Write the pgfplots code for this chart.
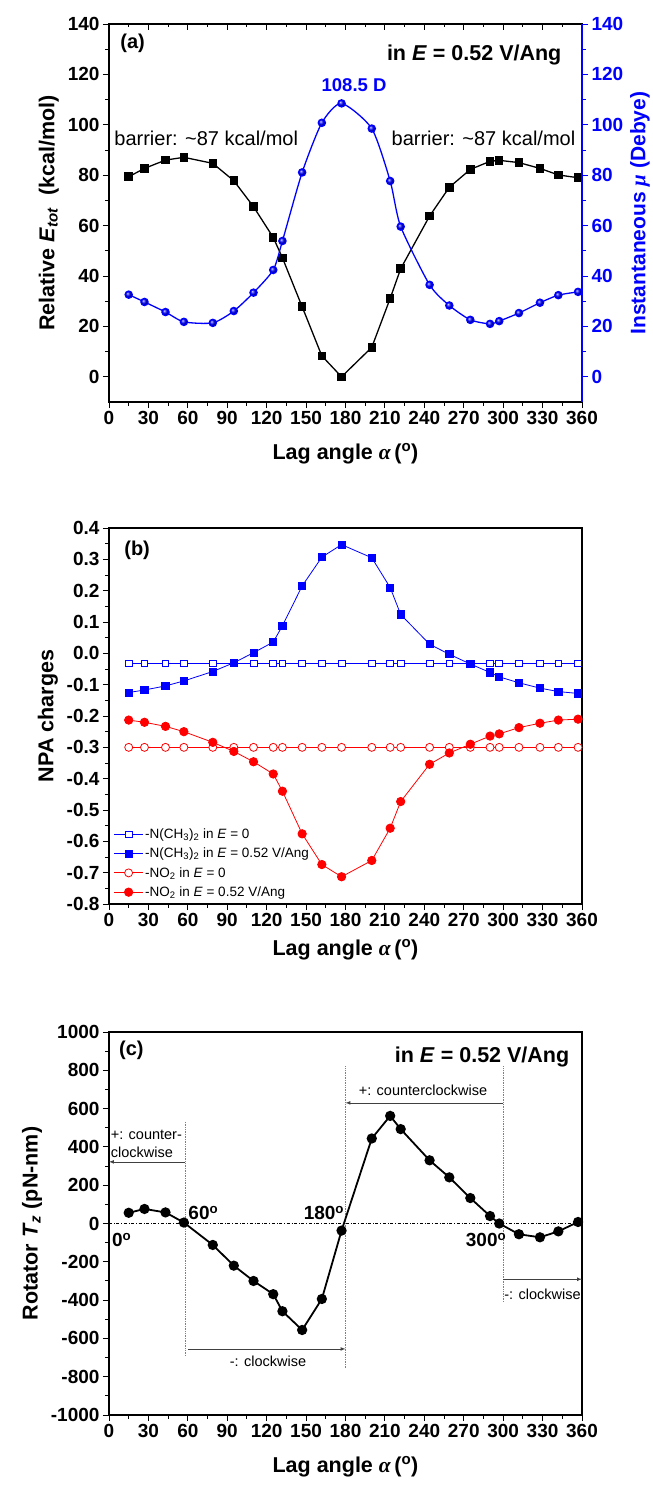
\documentclass[border=0pt]{standalone}
\usepackage{fontspec}
\setmainfont{Liberation Sans}
\newfontfamily\grk{Liberation Serif}
\usepackage{pgfplots}
\pgfplotsset{compat=1.18}
\usepackage{pgfplotstable}

\pgfplotstableread{
ang E mu Nf N0 Of O0 T
15 79.4 32.6 -0.125 -0.032 -0.213 -0.30 56
27 82.7 29.7 -0.117 -0.032 -0.220 -0.30 76
43 86.0 25.7 -0.104 -0.032 -0.233 -0.30 58
57 87.1 21.8 -0.088 -0.032 -0.250 -0.30 5
79 84.7 21.4 -0.058 -0.032 -0.284 -0.30 -112
95 77.8 26.1 -0.030 -0.032 -0.313 -0.30 -220
110 67.5 33.4 0.002 -0.032 -0.346 -0.30 -300
125 55.3 42.4 0.036 -0.032 -0.385 -0.30 -369
132 47.2 53.9 0.088 -0.032 -0.440 -0.30 -458
147 27.8 81.1 0.215 -0.032 -0.576 -0.30 -556
162 8.3 100.8 0.307 -0.032 -0.674 -0.30 -394
177 0.0 108.5 0.347 -0.032 -0.713 -0.30 -37
200 11.7 98.5 0.305 -0.032 -0.661 -0.30 444
214 31.1 77.7 0.210 -0.032 -0.558 -0.30 562
222 42.9 59.6 0.124 -0.032 -0.473 -0.30 493
244 63.8 36.5 0.029 -0.032 -0.354 -0.30 330
259 75.2 28.3 -0.003 -0.032 -0.318 -0.30 241
275 82.3 22.6 -0.034 -0.032 -0.290 -0.30 133
290 85.5 21.0 -0.061 -0.032 -0.264 -0.30 39
297 85.9 22.1 -0.075 -0.032 -0.257 -0.30 0
312 85.0 25.3 -0.094 -0.032 -0.237 -0.30 -56
328 82.7 29.4 -0.111 -0.032 -0.223 -0.30 -72
342 80.1 32.4 -0.122 -0.032 -0.213 -0.30 -41
357 79.0 33.7 -0.128 -0.032 -0.210 -0.30 8
}\data

\pgfplotsset{
  panel/.style={
    scale only axis, width=473pt, clip=false,
    xmin=0, xmax=360, xtick={0,30,...,360}, minor x tick num=1,
    tick align=outside, xtick pos=bottom, ytick pos=left,
    minor y tick num=1,
    tick style={black, line width=1pt},
    major tick length=6pt, minor tick length=3.5pt,
    axis line style={line width=1.3pt},
    ticklabel style={font=\fontsize{19}{19}\selectfont\bfseries},
    /pgf/number format/assume math mode=true,
    /pgf/number format/1000 sep={},
    label style={font=\fontsize{21.5}{23}\selectfont\bfseries},
    xlabel={Lag angle {\grk\bfseries\itshape α}\,(\textsuperscript{o})},
    xlabel shift=12pt, ylabel shift=2pt,
  },
  every axis/.append style={
    legend image code/.code={\draw[mark repeat=2,mark phase=2] plot coordinates {(0cm,0cm) (0.5cm,0cm) (1cm,0cm)};}
  }
}

\begin{document}
\begin{tikzpicture}
\path[use as bounding box] (0,0) rectangle (653pt,-1486pt);

% ---------------- (a)
\begin{axis}[panel, at={(109pt,-24pt)}, anchor=north west, height=378pt,
  ymin=-10, ymax=140, ytick={0,20,...,140},
  ylabel={Relative \textit{E}\textsubscript{\textit{tot}}\ \ (kcal/mol)}]
\addplot[black, line width=1.3pt, mark=square*, mark size=3.6pt] table[x=ang,y=E]{\data};
\node[anchor=west, font=\fontsize{20}{20}\selectfont\bfseries] at (axis cs:6,132.5) {(a)};
\node[anchor=east, font=\fontsize{21.5}{21.5}\selectfont\bfseries] at (axis cs:347,127.7) {in \textit{E} = 0.52 V/Ang};
\node[font=\fontsize{18.5}{18.5}\selectfont\bfseries, text=blue] at (axis cs:186.5,115.8) {108.5 D};
\node[font=\fontsize{20}{20}\selectfont] at (axis cs:74,94.6) {barrier: \char`\~87 kcal/mol};
\node[font=\fontsize{20}{20}\selectfont] at (axis cs:285,94.6) {barrier: \char`\~87 kcal/mol};
\end{axis}
\begin{axis}[at={(109pt,-24pt)}, anchor=north west, scale only axis, width=473pt, height=378pt,
  xmin=0, xmax=360, ymin=-10, ymax=140, axis x line*=top, axis y line=none,
  xtick={0,30,...,360}, minor x tick num=1, xticklabels={}, tick align=inside,
  tick style={black, line width=1pt}, major tick length=6pt, minor tick length=3.5pt,
  axis line style={line width=1.3pt}]
\end{axis}
\begin{axis}[at={(109pt,-24pt)}, anchor=north west, scale only axis, width=473pt, height=378pt,
  xmin=0, xmax=360, ymin=-10, ymax=140, axis x line=none, axis y line*=right,
  ytick={0,20,...,140}, minor y tick num=1, tick align=outside,
  y axis line style={blue, line width=1.3pt}, ytick style={blue, line width=1pt},
  major tick length=6pt, minor tick length=3.5pt,
  yticklabel style={blue, font=\fontsize{19}{19}\selectfont\bfseries},
  /pgf/number format/assume math mode=true,
  ylabel={Instantaneous {\grk\bfseries\itshape μ} (Debye)},
  ylabel style={blue, font=\fontsize{21}{23}\selectfont\bfseries}]
\addplot[blue, line width=1.3pt, smooth, tension=0.4, mark=ball, mark size=3.6pt, mark options={ball color=blue}] table[x=ang,y=mu]{\data};
\end{axis}

% ---------------- (b)
\begin{axis}[panel, at={(109pt,-528pt)}, anchor=north west, height=376pt,
  ymin=-0.8, ymax=0.4,
  ytick={-0.8,-0.7,-0.6,-0.5,-0.4,-0.3,-0.2,-0.1,0,0.1,0.2,0.3,0.4},
  yticklabel style={/pgf/number format/.cd, fixed, fixed zerofill, precision=1},
  ylabel={NPA charges}, xlabel shift=6pt,
  legend style={at={(0.008,0.008)}, anchor=south west, draw=none, fill=none,
    font=\fontsize{13.5}{14}\selectfont, row sep=4pt, inner sep=1pt},
  legend cell align=left]
\addplot[blue, line width=0.8pt, mark=square*, mark size=3.4pt, mark options={fill=white, line width=0.8pt}] table[x=ang,y=N0]{\data};
\addlegendentry{-N(CH\textsubscript{3})\textsubscript{2} in \textit{E} = 0}
\addplot[blue, line width=0.8pt, mark=square*, mark size=3.6pt] table[x=ang,y=Nf]{\data};
\addlegendentry{-N(CH\textsubscript{3})\textsubscript{2} in \textit{E} = 0.52 V/Ang}
\addplot[red, line width=0.8pt, mark=*, mark size=4pt, mark options={fill=white, line width=0.8pt}] table[x=ang,y=O0]{\data};
\addlegendentry{-NO\textsubscript{2} in \textit{E} = 0}
\addplot[red, line width=0.8pt, mark=*, mark size=4.2pt] table[x=ang,y=Of]{\data};
\addlegendentry{-NO\textsubscript{2} in \textit{E} = 0.52 V/Ang}
\node[anchor=west, font=\fontsize{20}{20}\selectfont\bfseries] at (axis cs:9,0.328) {(b)};
\end{axis}

% ---------------- (c)
\begin{axis}[panel, at={(109pt,-1032pt)}, anchor=north west, height=383pt,
  ymin=-1000, ymax=1000, ytick={-1000,-800,...,1000},
  ylabel={Rotator \textit{T}\textsubscript{\textit{z}} (pN-nm)}]
\draw[dash dot, line width=0.6pt] (axis cs:0,0) -- (axis cs:360,0);
\draw[densely dotted, gray, line width=0.7pt] (axis cs:58,530) -- (axis cs:58,-690);
\draw[densely dotted, gray, line width=0.7pt] (axis cs:180,820) -- (axis cs:180,-760);
\draw[densely dotted, gray, line width=0.7pt] (axis cs:300,820) -- (axis cs:300,-410);
\draw[-latex, black!75, line width=0.7pt] (axis cs:58,322) -- (axis cs:0,322);
\draw[-latex, black!75, line width=0.7pt] (axis cs:300,630) -- (axis cs:180,630);
\draw[-latex, black!75, line width=0.7pt] (axis cs:60,-655) -- (axis cs:180,-655);
\draw[-latex, black!75, line width=0.7pt] (axis cs:300,-291) -- (axis cs:360,-291);
\node[anchor=south west, align=left, inner sep=1pt, font=\fontsize{14.5}{17.6}\selectfont] at (axis cs:0.5,340) {+: counter-\\clockwise};
\node[font=\fontsize{14.5}{14.5}\selectfont] at (axis cs:239,696) {+: counterclockwise};
\node[font=\fontsize{14.5}{14.5}\selectfont] at (axis cs:121,-717) {-: clockwise};
\node[anchor=west, inner sep=1pt, font=\fontsize{14.5}{14.5}\selectfont] at (axis cs:300,-369) {-: clockwise};
\node[font=\fontsize{19}{19}\selectfont\bfseries] at (axis cs:9.6,-86) {0\textsuperscript{o}};
\node[font=\fontsize{19}{19}\selectfont\bfseries] at (axis cs:71.8,53) {60\textsuperscript{o}};
\node[font=\fontsize{19}{19}\selectfont\bfseries] at (axis cs:163.6,53) {180\textsuperscript{o}};
\node[font=\fontsize{19}{19}\selectfont\bfseries] at (axis cs:287,-86) {300\textsuperscript{o}};
\node[anchor=west, font=\fontsize{20}{20}\selectfont\bfseries] at (axis cs:5,905) {(c)};
\node[anchor=east, font=\fontsize{21.5}{21.5}\selectfont\bfseries] at (axis cs:353,870) {in \textit{E} = 0.52 V/Ang};
\addplot[black, line width=1.8pt, mark=*, mark size=4.2pt] table[x=ang,y=T]{\data};
\end{axis}
\end{tikzpicture}
\end{document}
